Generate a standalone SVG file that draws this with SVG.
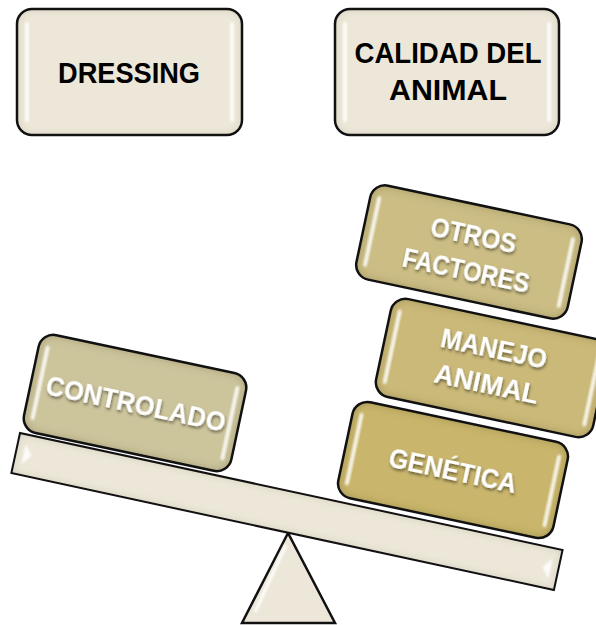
<svg xmlns="http://www.w3.org/2000/svg" width="596" height="625" viewBox="0 0 596 625">
<style>
.box{fill:#ece7d8;}
.edge{fill:none;stroke:#111;stroke-width:2.5;}
.hl{fill:#ffffff;opacity:0.85;}
.dark{font-family:"Liberation Sans",Arial,sans-serif;font-weight:bold;font-size:29px;fill:#000;text-anchor:middle;}
.lbl{font-family:"Liberation Sans",Arial,sans-serif;font-weight:bold;font-size:28px;fill:#fff;text-anchor:middle;}
</style>
<defs>
<filter id="inner" x="-5%" y="-5%" width="110%" height="110%">
<feGaussianBlur in="SourceAlpha" stdDeviation="5" result="blur"/>
<feComposite in="SourceAlpha" in2="blur" operator="arithmetic" k2="1" k3="-1" result="edge"/>
<feFlood flood-color="#5a4a18" flood-opacity="0.55"/>
<feComposite in2="edge" operator="in" result="sh"/>
<feMerge><feMergeNode in="SourceGraphic"/><feMergeNode in="sh"/></feMerge>
</filter>
<filter id="innerL" x="-5%" y="-5%" width="110%" height="110%">
<feGaussianBlur in="SourceAlpha" stdDeviation="4" result="blur"/>
<feComposite in="SourceAlpha" in2="blur" operator="arithmetic" k2="1" k3="-1" result="edge"/>
<feFlood flood-color="#8a7f60" flood-opacity="0.35"/>
<feComposite in2="edge" operator="in" result="sh"/>
<feMerge><feMergeNode in="SourceGraphic"/><feMergeNode in="sh"/></feMerge>
</filter>
<filter id="tsh" x="-10%" y="-30%" width="120%" height="170%">
<feDropShadow dx="1" dy="2" stdDeviation="1.5" flood-color="#000" flood-opacity="0.5"/>
</filter>
<filter id="soft"><feGaussianBlur stdDeviation="0.8"/></filter>
</defs>

<g id="dressing">
<rect x="17" y="9" width="225" height="126" rx="15" class="box" filter="url(#innerL)"/>
<rect x="25" y="22" width="4" height="100" rx="2" class="hl" filter="url(#soft)"/>
<rect x="230" y="22" width="4" height="100" rx="2" class="hl" filter="url(#soft)"/>
<rect x="17" y="9" width="225" height="126" rx="15" class="edge"/>
<text x="129" y="83" class="dark" textLength="142" lengthAdjust="spacingAndGlyphs">DRESSING</text>
</g>

<g id="calidad">
<rect x="335" y="9" width="224" height="126" rx="15" class="box" filter="url(#innerL)"/>
<rect x="343" y="22" width="4" height="100" rx="2" class="hl" filter="url(#soft)"/>
<rect x="547" y="22" width="4" height="100" rx="2" class="hl" filter="url(#soft)"/>
<rect x="335" y="9" width="224" height="126" rx="15" class="edge"/>
<text x="448" y="63" class="dark" textLength="187" lengthAdjust="spacingAndGlyphs">CALIDAD DEL</text>
<text x="448" y="100" class="dark" textLength="118" lengthAdjust="spacingAndGlyphs">ANIMAL</text>
</g>

<g id="fulcrum">
<polygon points="288,533 242,623 335,623" fill="#ece7d8" stroke="#111" stroke-width="2.5" stroke-linejoin="miter"/>
<line x1="286" y1="545" x2="255" y2="612" stroke="#fff" stroke-width="3" opacity="0.9" filter="url(#soft)"/>
</g>

<g id="beam" transform="translate(20,433) rotate(12.16)">
<rect x="0" y="0" width="555" height="41" class="box" filter="url(#innerL)"/>
<polygon points="8,10 16,20 8,30" fill="#fff" opacity="0.9" filter="url(#soft)"/>
<polygon points="547,11 539,21 547,31" fill="#fff" opacity="0.9" filter="url(#soft)"/>
<rect x="0" y="0" width="555" height="41" fill="none" stroke="#111" stroke-width="2"/>
</g>

<g id="controlado" transform="translate(135,403) rotate(12)">
<rect x="-106" y="-50" width="212" height="100" rx="15" fill="#ccc49b" filter="url(#inner)"/>
<rect x="-99" y="-38" width="4" height="76" rx="2" class="hl" filter="url(#soft)"/>
<rect x="95" y="-38" width="4" height="76" rx="2" class="hl" filter="url(#soft)"/>
<rect x="-106" y="-50" width="212" height="100" rx="15" class="edge"/>
<text x="1" y="10" class="lbl" filter="url(#tsh)" textLength="183" lengthAdjust="spacingAndGlyphs">CONTROLADO</text>
</g>

<g id="genetica" transform="translate(453,470) rotate(12)">
<rect x="-110" y="-49" width="220" height="98" rx="15" fill="#c9b66c" filter="url(#inner)"/>
<rect x="-103" y="-37" width="4" height="74" rx="2" class="hl" filter="url(#soft)"/>
<rect x="99" y="-37" width="4" height="74" rx="2" class="hl" filter="url(#soft)"/>
<rect x="-110" y="-49" width="220" height="98" rx="15" class="edge"/>
<text x="0" y="10" class="lbl" filter="url(#tsh)" textLength="130" lengthAdjust="spacingAndGlyphs">GENÉTICA</text>
</g>

<g id="manejo" transform="translate(492,368) rotate(12)">
<rect x="-111" y="-50" width="222" height="100" rx="15" fill="#cab978" filter="url(#inner)"/>
<rect x="-104" y="-38" width="4" height="76" rx="2" class="hl" filter="url(#soft)"/>
<rect x="100" y="-38" width="4" height="76" rx="2" class="hl" filter="url(#soft)"/>
<rect x="-111" y="-50" width="222" height="100" rx="15" class="edge"/>
<text x="-2" y="-10" class="lbl" filter="url(#tsh)" textLength="108" lengthAdjust="spacingAndGlyphs">MANEJO</text>
<text x="-2" y="26" class="lbl" filter="url(#tsh)" textLength="106" lengthAdjust="spacingAndGlyphs">ANIMAL</text>
</g>

<g id="otros" transform="translate(469,252) rotate(12)">
<rect x="-108" y="-48" width="216" height="96" rx="15" fill="#cbbd84" filter="url(#inner)"/>
<rect x="-101" y="-36" width="4" height="72" rx="2" class="hl" filter="url(#soft)"/>
<rect x="97" y="-36" width="4" height="72" rx="2" class="hl" filter="url(#soft)"/>
<rect x="-108" y="-48" width="216" height="96" rx="15" class="edge"/>
<text x="1" y="-8" class="lbl" filter="url(#tsh)" textLength="87" lengthAdjust="spacingAndGlyphs">OTROS</text>
<text x="1" y="28" class="lbl" filter="url(#tsh)" textLength="129" lengthAdjust="spacingAndGlyphs">FACTORES</text>
</g>
</svg>
